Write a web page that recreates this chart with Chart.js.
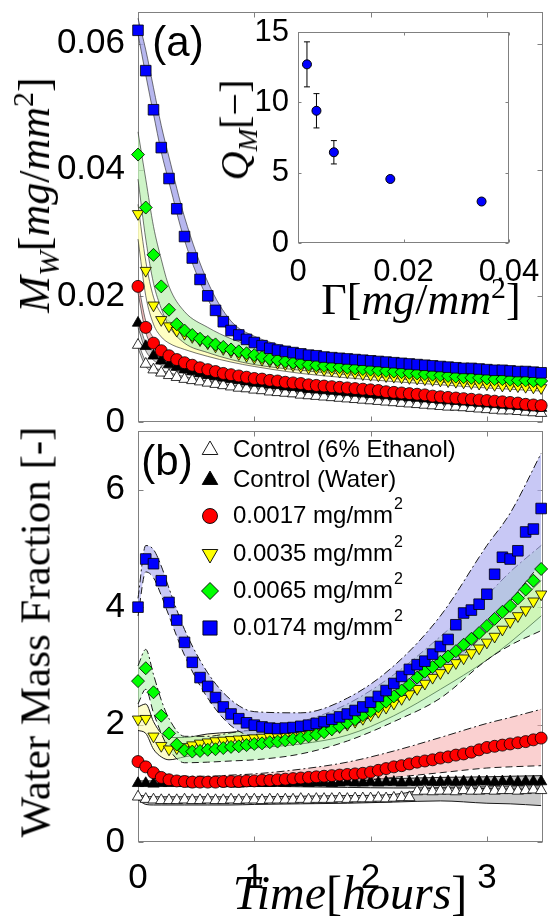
<!DOCTYPE html>
<html>
<head>
<meta charset="utf-8">
<title>Water mass over time</title>
<script src="https://cdn.jsdelivr.net/npm/chart.js@4.4.1/dist/chart.umd.min.js"></script>
<style>
  body { margin: 0; background: #fff; }
  #wrap { position: relative; width: 551px; height: 919px; overflow: hidden; }
  canvas { position: absolute; left: 0; top: 0; }
  .t { position: absolute; white-space: nowrap; line-height: 1; font-family: "Liberation Serif", "DejaVu Serif", serif; color: #000; transform: translate(-50%, -50%); }
  .rot { transform: translate(-50%, -50%) rotate(-90deg); }
  .t sub, .t sup { font-size: 0.68em; line-height: 0; }
  .panel { font-family: "Liberation Sans", Arial, sans-serif; }
</style>
</head>
<body>
<div id="wrap">
  <canvas id="chartA" width="551" height="919"></canvas>
  <canvas id="chartB" width="551" height="919"></canvas>
  <canvas id="chartC" width="551" height="919"></canvas>
  <div class="t rot" style="left:35px;top:195px;font-size:44px"><i>M</i><sub><i>W</i></sub>[<i>mg</i>/<i>mm</i><sup>2</sup>]</div>
  <div class="t rot" style="left:35px;top:632px;font-size:43px">Water Mass Fraction [-]</div>
  <div class="t" style="left:350px;top:893px;font-size:48px"><i>Time</i>[<i>hours</i>]</div>
  <div class="t rot" style="left:235px;top:130px;font-size:40px"><i>Q</i><sub><i>M</i></sub>[−]</div>
  <div class="t" style="left:421px;top:300px;font-size:44px">Γ[<i>mg</i>/<i>mm</i><sup>2</sup>]</div>
  <div class="t panel" style="left:178px;top:42px;font-size:42px">(a)</div>
  <div class="t panel" style="left:167px;top:461px;font-size:42px">(b)</div>
</div>
<script>
// sample times (minutes)
const timeMin = [0,4,8,12,16,20,24,28,32,36,40,44,48,52,56,60,64,68,72,76,80,84,88,92,96,100,
  104,108,112,116,120,124,128,132,136,140,144,148,152,156,160,164,168,172,176,180,184,188,192,196,200,204,208];
const hours = timeMin.map(m => m / 60);

// (a) water mass M_W [mg/mm^2]
const aBlue = [0.0621,0.0557,0.0495,0.0435,0.0386,0.0338,0.0294,0.0260,0.0226,0.0200,
  0.0177,0.0159,0.0145,0.0138,0.0131,0.0126,0.0121,0.0117,0.0114,0.0112,
  0.0110,0.0108,0.0106,0.0105,0.0103,0.0102,0.0101,0.0100,0.0099,0.0098,
  0.0097,0.0096,0.0095,0.0094,0.0093,0.0092,0.0091,0.0090,0.0089,0.0088,
  0.0087,0.0086,0.0085,0.0085,0.0084,0.0083,0.0082,0.0082,0.0081,0.0080,
  0.0080,0.0079,0.0078];
const aGreen = [0.0424,0.0340,0.0265,0.0215,0.0178,0.0155,0.0145,0.0138,0.0132,0.0127,
  0.0123,0.0119,0.0115,0.0112,0.0109,0.0106,0.0103,0.0100,0.0098,0.0096,
  0.0094,0.0093,0.0091,0.0090,0.0089,0.0088,0.0087,0.0086,0.0085,0.0084,
  0.0083,0.0082,0.0081,0.0080,0.0079,0.0078,0.0077,0.0076,0.0075,0.0074,
  0.0073,0.0072,0.0071,0.0070,0.0070,0.0069,0.0068,0.0068,0.0067,0.0066,
  0.0066,0.0065,0.0065];
const aYellow = [0.0330,0.0240,0.0185,0.0162,0.0152,0.0145,0.0140,0.0135,0.0130,0.0125,
  0.0120,0.0116,0.0112,0.0108,0.0105,0.0102,0.0099,0.0097,0.0094,0.0092,
  0.0090,0.0088,0.0086,0.0085,0.0083,0.0082,0.0080,0.0079,0.0078,0.0076,
  0.0075,0.0074,0.0073,0.0072,0.0071,0.0070,0.0069,0.0068,0.0067,0.0066,
  0.0065,0.0064,0.0063,0.0062,0.0061,0.0060,0.0059,0.0058,0.0058,0.0057,
  0.0056,0.0055,0.0054];
const aRed = [0.0215,0.0150,0.0125,0.0113,0.0105,0.0099,0.0094,0.0090,0.0086,0.0083,
  0.0080,0.0077,0.0075,0.0073,0.0071,0.0069,0.0068,0.0066,0.0065,0.0063,
  0.0062,0.0061,0.0059,0.0058,0.0057,0.0056,0.0055,0.0054,0.0053,0.0052,
  0.0051,0.0050,0.0048,0.0047,0.0046,0.0045,0.0044,0.0043,0.0041,0.0040,
  0.0039,0.0038,0.0037,0.0036,0.0035,0.0034,0.0033,0.0032,0.0031,0.0030,
  0.0028,0.0027,0.0026];
const aBlack = [0.0157,0.0120,0.0105,0.0097,0.0091,0.0087,0.0083,0.0080,0.0077,0.0074,
  0.0072,0.0070,0.0068,0.0066,0.0064,0.0062,0.0061,0.0059,0.0058,0.0056,
  0.0055,0.0054,0.0052,0.0051,0.0050,0.0049,0.0048,0.0047,0.0046,0.0045,
  0.0044,0.0043,0.0042,0.0041,0.0040,0.0039,0.0038,0.0037,0.0036,0.0035,
  0.0034,0.0033,0.0032,0.0031,0.0030,0.0029,0.0028,0.0027,0.0026,0.0025,
  0.0024,0.0023,0.0022];
const aWhite = [0.0122,0.0092,0.0083,0.0078,0.0074,0.0071,0.0068,0.0066,0.0064,0.0062,
  0.0060,0.0058,0.0056,0.0054,0.0053,0.0051,0.0050,0.0048,0.0047,0.0046,
  0.0045,0.0043,0.0042,0.0041,0.0040,0.0039,0.0038,0.0037,0.0036,0.0035,
  0.0034,0.0033,0.0032,0.0031,0.0030,0.0029,0.0028,0.0027,0.0026,0.0025,
  0.0024,0.0024,0.0023,0.0022,0.0021,0.0020,0.0019,0.0018,0.0018,0.0017,
  0.0016,0.0015,0.0014];

// (b) water mass fraction [-]
const bBlue = [4.00,4.82,4.74,4.45,4.08,3.78,3.40,3.06,2.80,2.65,
  2.46,2.30,2.18,2.10,2.03,1.99,1.96,1.94,1.93,1.94,
  1.95,1.97,1.99,2.02,2.05,2.09,2.13,2.18,2.24,2.30,
  2.38,2.48,2.58,2.70,2.82,2.94,3.02,3.08,3.20,3.33,
  3.45,3.70,3.90,3.95,4.05,4.22,4.56,4.85,4.82,4.96,
  5.28,5.33,5.68];
const bGreen = [2.74,2.96,2.55,2.15,1.85,1.66,1.56,1.54,1.55,1.57,
  1.58,1.60,1.62,1.63,1.65,1.67,1.68,1.70,1.71,1.73,
  1.75,1.77,1.80,1.83,1.87,1.92,1.97,2.03,2.09,2.16,
  2.23,2.31,2.39,2.48,2.58,2.68,2.80,2.90,2.98,3.07,
  3.16,3.25,3.36,3.46,3.56,3.68,3.80,3.92,4.02,4.15,
  4.30,4.45,4.65];
const bYellow = [2.09,2.10,1.80,1.64,1.58,1.60,1.62,1.65,1.68,1.70,
  1.72,1.73,1.74,1.75,1.76,1.77,1.78,1.79,1.80,1.81,
  1.82,1.83,1.85,1.87,1.89,1.92,1.96,2.00,2.05,2.10,
  2.16,2.22,2.29,2.36,2.44,2.52,2.61,2.70,2.80,2.88,
  2.97,3.05,3.13,3.22,3.30,3.40,3.50,3.62,3.75,3.85,
  3.95,4.10,4.22];
const bRed = [1.37,1.28,1.18,1.10,1.06,1.04,1.03,1.02,1.02,1.02,
  1.02,1.03,1.03,1.03,1.04,1.04,1.05,1.05,1.06,1.07,
  1.08,1.09,1.10,1.11,1.12,1.13,1.14,1.15,1.16,1.17,
  1.19,1.22,1.25,1.28,1.30,1.33,1.36,1.38,1.40,1.43,
  1.45,1.48,1.50,1.53,1.57,1.61,1.63,1.65,1.67,1.69,
  1.71,1.74,1.77];
const bBlack = [1.00,1.00,0.99,1.00,1.00,1.01,1.00,0.99,1.00,1.00,
  1.01,1.00,1.00,0.99,1.00,1.01,1.00,1.00,1.01,1.00,
  1.01,1.01,1.00,1.01,1.01,1.00,1.01,1.02,1.01,1.01,
  1.02,1.01,1.02,1.02,1.01,1.02,1.02,1.03,1.02,1.02,
  1.03,1.02,1.03,1.02,1.03,1.03,1.02,1.03,1.03,1.02,
  1.03,1.03,1.03];
const bWhite = [0.77,0.73,0.72,0.71,0.71,0.71,0.72,0.71,0.71,0.72,
  0.71,0.71,0.72,0.71,0.72,0.72,0.71,0.72,0.72,0.72,
  0.72,0.73,0.72,0.73,0.73,0.73,0.74,0.73,0.74,0.74,
  0.74,0.75,0.74,0.75,0.76,0.76,0.86,0.87,0.86,0.87,
  0.87,0.86,0.88,0.87,0.87,0.88,0.87,0.88,0.88,0.87,
  0.88,0.89,0.88];

// spread bands, read at these sample indices
const bandIdx = [0,1,2,3,4,6,9,12,15,21,27,33,39,45,48,52];
const aBlueHi = [0.0640,0.0590,0.0530,0.0470,0.0420,0.0325,0.0222,0.0160,0.0136,0.0115,0.0106,0.0099,0.0093,0.0088,0.0086,0.0083];
const aBlueLo = [0.0615,0.0550,0.0488,0.0428,0.0380,0.0288,0.0195,0.0140,0.0121,0.0104,0.0096,0.0090,0.0084,0.0079,0.0077,0.0074];
const aGreenHi = [0.0460,0.0385,0.0310,0.0258,0.0215,0.0175,0.0150,0.0132,0.0120,0.0103,0.0094,0.0087,0.0081,0.0075,0.0073,0.0071];
const aGreenLo = [0.0385,0.0290,0.0220,0.0180,0.0152,0.0125,0.0110,0.0099,0.0091,0.0082,0.0075,0.0069,0.0063,0.0058,0.0056,0.0053];
const aYellowHi = [0.0345,0.0255,0.0198,0.0172,0.0160,0.0147,0.0131,0.0117,0.0106,0.0092,0.0083,0.0076,0.0070,0.0064,0.0062,0.0058];
const aYellowLo = [0.0290,0.0200,0.0155,0.0135,0.0125,0.0115,0.0104,0.0095,0.0088,0.0077,0.0070,0.0064,0.0059,0.0054,0.0052,0.0049];
const aRedHi = [0.0222,0.0160,0.0133,0.0120,0.0111,0.0099,0.0087,0.0079,0.0073,0.0064,0.0057,0.0051,0.0044,0.0038,0.0035,0.0030];
const aRedLo = [0.0205,0.0142,0.0118,0.0107,0.0100,0.0090,0.0080,0.0072,0.0066,0.0058,0.0051,0.0045,0.0038,0.0032,0.0029,0.0024];
const aBlackHi = [0.0162,0.0125,0.0110,0.0101,0.0095,0.0087,0.0078,0.0071,0.0065,0.0057,0.0050,0.0044,0.0038,0.0032,0.0029,0.0025];
const aBlackLo = [0.0150,0.0113,0.0098,0.0090,0.0085,0.0077,0.0068,0.0062,0.0056,0.0048,0.0041,0.0035,0.0029,0.0022,0.0019,0.0014];
const aWhiteHi = [0.0126,0.0096,0.0087,0.0082,0.0078,0.0072,0.0065,0.0059,0.0054,0.0046,0.0040,0.0034,0.0028,0.0023,0.0021,0.0017];
const aWhiteLo = [0.0117,0.0088,0.0079,0.0074,0.0070,0.0064,0.0058,0.0052,0.0047,0.0039,0.0033,0.0027,0.0021,0.0016,0.0014,0.0010];

const bBlueHi = [4.15,5.05,4.98,4.70,4.32,3.62,2.88,2.42,2.22,2.20,2.45,3.00,3.85,5.05,5.60,6.62];
const bBlueLo = [3.85,4.60,4.50,4.20,3.85,3.18,2.45,1.98,1.80,1.78,1.95,2.35,2.85,3.60,4.10,4.75];
const bGreenHi = [3.00,3.28,2.85,2.42,2.10,1.80,1.80,1.86,1.92,2.05,2.35,2.85,3.50,4.20,4.60,5.05];
const bGreenLo = [2.35,2.60,2.20,1.85,1.58,1.35,1.36,1.38,1.40,1.50,1.72,2.05,2.45,3.10,3.35,3.60];
const bYellowHi = [2.30,2.35,2.05,1.85,1.78,1.78,1.84,1.87,1.90,1.97,2.15,2.52,3.05,3.60,3.95,4.45];
const bYellowLo = [1.90,1.85,1.58,1.45,1.40,1.45,1.52,1.56,1.60,1.67,1.82,2.15,2.60,3.10,3.40,3.85];
const bRedHi = [1.45,1.36,1.26,1.18,1.14,1.12,1.12,1.14,1.16,1.24,1.36,1.55,1.78,2.02,2.12,2.26];
const bRedLo = [1.30,1.20,1.10,1.02,0.98,0.95,0.94,0.94,0.95,0.98,1.02,1.10,1.18,1.26,1.28,1.30];
const bBlackHi = [1.04,1.04,1.04,1.04,1.04,1.04,1.04,1.05,1.05,1.06,1.07,1.08,1.10,1.11,1.12,1.13];
const bBlackLo = [0.96,0.96,0.96,0.96,0.96,0.96,0.96,0.95,0.95,0.94,0.93,0.92,0.92,0.91,0.90,0.90];
const bWhiteHi = [0.80,0.78,0.77,0.77,0.77,0.77,0.77,0.77,0.77,0.78,0.79,0.81,0.93,0.94,0.95,0.96];
const bWhiteLo = [0.72,0.64,0.63,0.63,0.63,0.63,0.63,0.63,0.64,0.65,0.66,0.68,0.70,0.66,0.65,0.62];

// inset: Q_M against coating density
const gammaVals = [0.0017, 0.0035, 0.0068, 0.0175, 0.0348];
const qVals = [12.7, 9.4, 6.45, 4.55, 2.95];
const qErr = [1.6, 1.22, 0.83, 0.12, 0.12];

// ticks and legend text
const xTicks = [0, 1, 2, 3];
const yTicksA = [0, 0.02, 0.04, 0.06];
const yTicksB = [0, 2, 4, 6];
const gammaTicks = [0, 0.02, 0.04];
const qTicks = [0, 5, 10, 15];
const legendLabels = ['Control (6% Ethanol)', 'Control (Water)', '0.0017 mg/mm²', '0.0035 mg/mm²', '0.0065 mg/mm²', '0.0174 mg/mm²'];

const series = [
  { a: aWhite, b: bWhite, aLo: aWhiteLo, aHi: aWhiteHi, bLo: bWhiteLo, bHi: bWhiteHi,
    shape: 'triangle', rot: 0, r: 6.5, color: '#ffffff', fillA: 'rgba(180,180,180,0.55)', fillB: 'rgba(150,150,150,0.5)', dash: false },
  { a: aBlack, b: bBlack, aLo: aBlackLo, aHi: aBlackHi, bLo: bBlackLo, bHi: bBlackHi,
    shape: 'triangle', rot: 0, r: 6.5, color: '#000000', fillA: 'rgba(170,170,170,0.55)', fillB: 'rgba(140,140,140,0.5)', dash: false },
  { a: aRed, b: bRed, aLo: aRedLo, aHi: aRedHi, bLo: bRedLo, bHi: bRedHi,
    shape: 'circle', rot: 0, r: 6, color: '#ff0000', fillA: 'rgba(240,170,170,0.75)', fillB: 'rgba(245,170,170,0.55)', dash: true },
  { a: aYellow, b: bYellow, aLo: aYellowLo, aHi: aYellowHi, bLo: bYellowLo, bHi: bYellowHi,
    shape: 'triangle', rot: 180, r: 6.5, color: '#ffff00', fillA: 'rgba(255,255,185,0.85)', fillB: 'rgba(252,252,170,0.6)', dash: false },
  { a: aGreen, b: bGreen, aLo: aGreenLo, aHi: aGreenHi, bLo: bGreenLo, bHi: bGreenHi,
    shape: 'rectRot', rot: 0, r: 6.5, color: '#00ff00', fillA: 'rgba(190,240,180,0.75)', fillB: 'rgba(170,240,165,0.55)', dash: true },
  { a: aBlue, b: bBlue, aLo: aBlueLo, aHi: aBlueHi, bLo: bBlueLo, bHi: bBlueHi,
    shape: 'rect', rot: 0, r: 7.5, color: '#0000ff', fillA: 'rgba(165,165,235,0.8)', fillB: 'rgba(170,170,240,0.65)', dash: true }
];

function panelSets(key) {
  const sets = [];
  const edge = key === 'a' ? { borderColor: 'rgba(40,40,40,0.8)', borderWidth: 0.8 } : { borderColor: '#1a1a1a', borderWidth: 1 };
  series.forEach((s, j) => {
    const band = arr => bandIdx.map((k, i) => ({ x: hours[k], y: arr[i] }));
    sets.push({ data: band(s[key + 'Lo']), ...edge, borderDash: key === 'b' && s.dash ? [7, 4] : [],
      pointRadius: 0, fill: false, cubicInterpolationMode: 'monotone', order: 100 - j, clip: false });
    sets.push({ data: band(s[key + 'Hi']), ...edge, borderDash: key === 'b' && s.dash ? [8, 3, 2, 3] : [],
      pointRadius: 0, fill: '-1', backgroundColor: key === 'a' ? s.fillA : s.fillB,
      cubicInterpolationMode: 'monotone', order: 100 - j, clip: false });
  });
  series.forEach((s, j) => {
    sets.push({ data: s[key].map((v, i) => ({ x: hours[i], y: v })), showLine: false, borderWidth: 0,
      pointStyle: s.shape, pointRotation: s.rot, pointRadius: s.r, pointBackgroundColor: s.color,
      pointBorderColor: '#000', pointBorderWidth: 0.8, order: 50 - j, clip: false });
  });
  return sets;
}

// the axis box is given a fixed size so the plot area lands where the figure has it
function axis(min, max, ticks, show, padding, size, boxSize) {
  return {
    type: 'linear', min, max,
    grid: { display: false }, border: { display: false },
    ticks: { display: show, autoSkip: false, maxRotation: 0, padding, color: '#000',
      font: { family: '"Liberation Sans", Arial, sans-serif', size }, callback: v => String(v) },
    afterBuildTicks: s => { s.ticks = ticks.map(v => ({ value: v })); },
    afterFit: s => {
      if (s.isHorizontal()) s.height = boxSize; else s.width = boxSize;
      s.paddingTop = s.paddingBottom = s.paddingLeft = s.paddingRight = 0;
    }
  };
}

// axes box with inward ticks, matlab style
function framePlugin(len) {
  return {
    id: 'frame',
    beforeDatasetsDraw(chart) {
      const { ctx, chartArea: a } = chart;
      const xs = chart.scales.x, ys = chart.scales.y;
      const L = Math.round(a.left) + 0.5, R = Math.round(a.right) - 0.5;
      const T = Math.round(a.top) + 0.5, B = Math.round(a.bottom) - 0.5;
      ctx.save();
      ctx.strokeStyle = '#808080';
      ctx.lineWidth = 1;
      ctx.strokeRect(L, T, R - L, B - T);
      ctx.beginPath();
      xs.ticks.forEach(t => {
        const p = Math.round(xs.getPixelForValue(t.value)) + 0.5;
        ctx.moveTo(p, B); ctx.lineTo(p, B - len);
        ctx.moveTo(p, T); ctx.lineTo(p, T + len);
      });
      ys.ticks.forEach(t => {
        const p = Math.round(ys.getPixelForValue(t.value)) + 0.5;
        ctx.moveTo(L, p); ctx.lineTo(L + len, p);
        ctx.moveTo(R, p); ctx.lineTo(R - len, p);
      });
      ctx.stroke();
      ctx.restore();
    }
  };
}

function drawMarker(ctx, shape, rot, r, x, y, fill) {
  ctx.save();
  ctx.translate(x, y);
  ctx.rotate(rot * Math.PI / 180);
  ctx.beginPath();
  if (shape === 'circle') {
    ctx.arc(0, 0, r, 0, 2 * Math.PI);
  } else if (shape === 'triangle') {
    for (let k = 0; k < 3; k++) {
      const ang = k * 2 * Math.PI / 3;
      ctx.lineTo(r * Math.sin(ang), -r * Math.cos(ang));
    }
    ctx.closePath();
  } else if (shape === 'rectRot') {
    ctx.moveTo(0, -r); ctx.lineTo(r, 0); ctx.lineTo(0, r); ctx.lineTo(-r, 0); ctx.closePath();
  } else {
    const h = r * Math.SQRT1_2;
    ctx.rect(-h, -h, 2 * h, 2 * h);
  }
  ctx.fillStyle = fill;
  ctx.fill();
  ctx.lineWidth = 0.9;
  ctx.strokeStyle = '#000';
  ctx.stroke();
  ctx.restore();
}

const legendPlugin = {
  id: 'legendBox',
  afterDatasetsDraw(chart) {
    const ctx = chart.ctx;
    const rows = [450, 480, 516, 554, 591, 628];
    const sizes = [9, 9, 7.5, 9, 8.5, 10];
    ctx.save();
    series.forEach((s, i) => {
      drawMarker(ctx, s.shape, s.rot, sizes[i], 210, rows[i], s.color);
      let txt = legendLabels[i];
      const sup = txt.endsWith('²');
      if (sup) txt = txt.slice(0, -1);
      ctx.fillStyle = '#000';
      ctx.textBaseline = 'middle';
      ctx.font = '24px "Liberation Sans", Arial, sans-serif';
      ctx.fillText(txt, 233, rows[i]);
      if (sup) {
        const w = ctx.measureText(txt).width;
        ctx.font = '16px "Liberation Sans", Arial, sans-serif';
        ctx.fillText('2', 234 + w, rows[i] - 11);
      }
    });
    ctx.restore();
  }
};

const errorBarPlugin = {
  id: 'errorBars',
  beforeDatasetsDraw(chart) {
    const { ctx } = chart;
    const xs = chart.scales.x, ys = chart.scales.y;
    ctx.save();
    ctx.strokeStyle = '#000';
    ctx.lineWidth = 1;
    ctx.beginPath();
    gammaVals.forEach((g, i) => {
      const px = xs.getPixelForValue(g);
      const top = ys.getPixelForValue(qVals[i] + qErr[i]);
      const bot = ys.getPixelForValue(qVals[i] - qErr[i]);
      ctx.moveTo(px, top); ctx.lineTo(px, bot);
      ctx.moveTo(px - 3, top); ctx.lineTo(px + 3, top);
      ctx.moveTo(px - 3, bot); ctx.lineTo(px + 3, bot);
    });
    ctx.stroke();
    ctx.restore();
  }
};

const common = {
  responsive: false,
  animation: false,
  events: [],
  plugins: { legend: { display: false }, tooltip: { enabled: false } }
};

// (a) water mass
new Chart(document.getElementById('chartA'), {
  type: 'line',
  data: { datasets: panelSets('a') },
  options: {
    ...common,
    layout: { padding: { left: 0, top: 12, right: 2, bottom: 0 } },
    scales: {
      x: axis(0, 3.48, xTicks, false, 7, 35, 497),
      y: axis(0, 0.065, yTicksA, true, 5, 35, 138)
    }
  },
  plugins: [framePlugin(5)]
});

// (b) water mass fraction
new Chart(document.getElementById('chartB'), {
  type: 'line',
  data: { datasets: panelSets('b') },
  options: {
    ...common,
    layout: { padding: { left: 0, top: 431, right: 2, bottom: 0 } },
    scales: {
      x: axis(0, 3.48, xTicks, true, 7, 35, 77),
      y: axis(0, 7, yTicksB, true, 5, 35, 138)
    }
  },
  plugins: [framePlugin(5), legendPlugin]
});

// inset Q_M vs Gamma
new Chart(document.getElementById('chartC'), {
  type: 'line',
  data: {
    datasets: [{
      data: gammaVals.map((g, i) => ({ x: g, y: qVals[i] })),
      showLine: false, borderWidth: 0, pointStyle: 'circle', pointRadius: 4.5,
      pointBackgroundColor: '#0000ff', pointBorderColor: '#000', pointBorderWidth: 1, clip: false
    }]
  },
  options: {
    ...common,
    layout: { padding: { left: 0, top: 32, right: 42, bottom: 0 } },
    scales: {
      x: axis(0, 0.04, gammaTicks, true, 3, 31, 676),
      y: axis(0, 15, qTicks, true, 1, 31, 298)
    }
  },
  plugins: [framePlugin(3), errorBarPlugin]
});
</script>
</body>
</html>
